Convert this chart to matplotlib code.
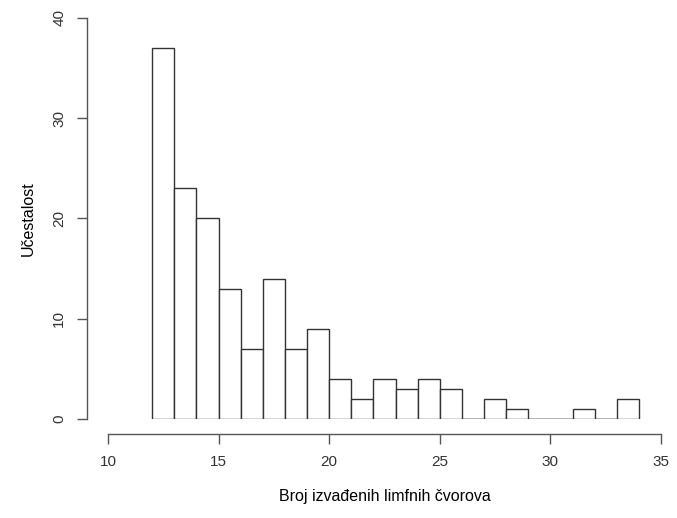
import matplotlib
matplotlib.use("Agg")
from matplotlib import pyplot as plt

plt.rcParams['font.family'] = ['Liberation Sans', 'DejaVu Sans']

# histogram bins (left edges) and counts
bin_left = list(range(12, 34))
counts = [37, 23, 20, 13, 7, 14, 7, 9, 4, 2, 4, 3, 4, 3, 0, 2, 1, 0, 0, 1, 0, 2]
x_ticks = [10, 15, 20, 25, 30, 35]
y_ticks = [0, 10, 20, 30, 40]

W, H = 677, 518
fig = plt.figure(figsize=(W / 100, H / 100), dpi=100)
ax = fig.add_axes([108 / W, (H - 419) / H, 553 / W, 401 / H])

ax.bar(bin_left, counts, width=1, align='edge', facecolor='white',
       edgecolor='#333333', linewidth=1.0)
# empty bins still show a flat line, like R's hist()
zero_left = [b for b, c in zip(bin_left, counts) if c == 0]
ax.hlines([0] * len(zero_left), zero_left, [b + 1 for b in zero_left],
          color='#333333', linewidth=1.0)

ax.set_xlim(10, 35)
ax.set_ylim(0, 40)
ax.set_xticks(x_ticks)
ax.set_yticks(y_ticks)

for s in ['top', 'right']:
    ax.spines[s].set_visible(False)
ax.spines['left'].set_position(('outward', 15))
ax.spines['bottom'].set_position(('outward', 11))
ax.spines['left'].set_bounds(0, 40)
ax.spines['bottom'].set_bounds(10, 35)
for s in ['left', 'bottom']:
    ax.spines[s].set_color('#555555')
    ax.spines[s].set_linewidth(1.0)

ax.tick_params(axis='both', direction='out', length=7, width=1.0,
               color='#555555', labelsize=11, labelcolor='#333333')
ax.tick_params(axis='x', pad=8)
ax.tick_params(axis='y', pad=8, labelrotation=90)
for lab in ax.get_yticklabels():
    lab.set_va('center')

ax.set_xlabel("Broj izvađenih limfnih čvorova", fontsize=11.5, labelpad=14)
ax.set_ylabel("Učestalost", fontsize=11.5, labelpad=12)

fig.savefig("out.png", dpi=100)
